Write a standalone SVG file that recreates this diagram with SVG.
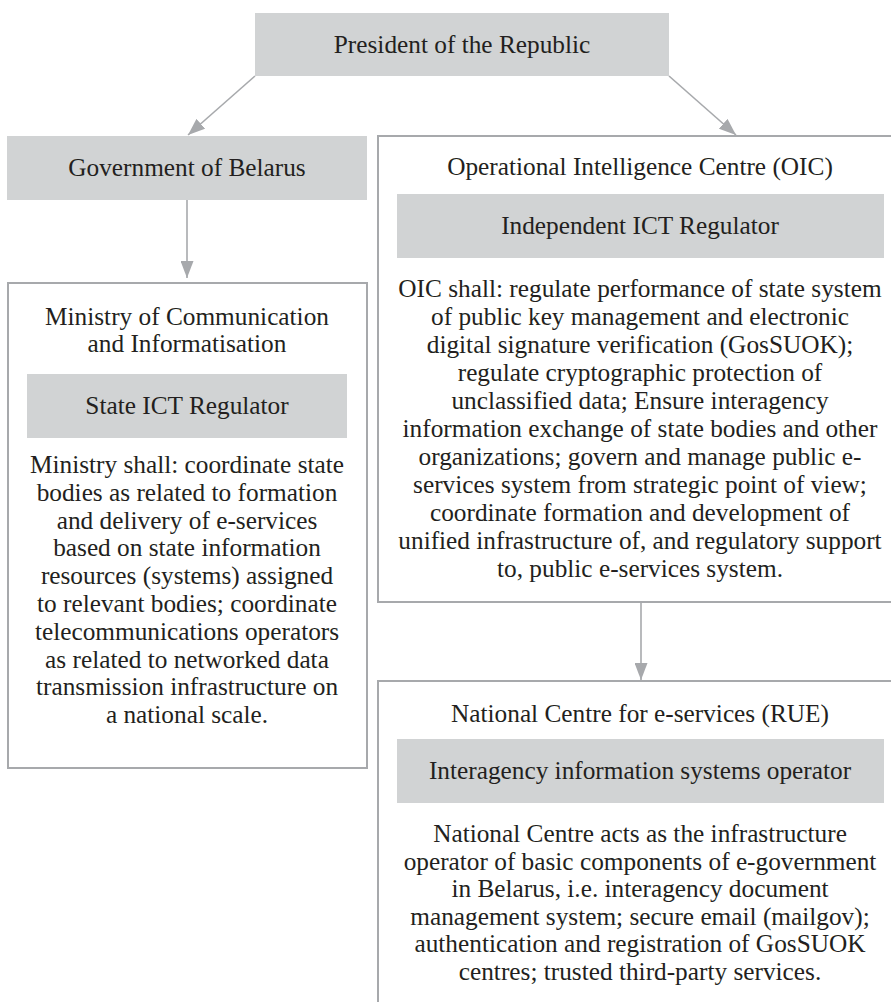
<svg xmlns="http://www.w3.org/2000/svg" width="891" height="1002" viewBox="0 0 891 1002">
<style>
text{font-family:"Liberation Serif","Times New Roman",serif;font-size:25.3px;fill:#231f20;text-anchor:middle}
.fill{fill:#d1d3d4;stroke:none}
.frame{fill:#ffffff;stroke:#a7a9ac;stroke-width:2}
.conn{stroke:#a7a9ac;stroke-width:1.6;fill:none}
</style>
<defs>
<marker id="ah" markerWidth="17" markerHeight="13" refX="17" refY="6.5" orient="auto" markerUnits="userSpaceOnUse">
<path d="M0,0 L17,6.5 L0,13 Z" fill="#a7a9ac"/>
</marker>
</defs>
<rect width="891" height="1002" fill="#ffffff"/>
<g id="connectors">
<line class="conn" x1="255" y1="76" x2="188" y2="135" marker-end="url(#ah)"/>
<line class="conn" x1="669" y1="76" x2="736" y2="135" marker-end="url(#ah)"/>
<line class="conn" x1="187" y1="200" x2="187" y2="278" marker-end="url(#ah)"/>
<line class="conn" x1="641" y1="602" x2="641" y2="680" marker-end="url(#ah)"/>
</g>
<g id="president">
<rect class="fill" x="255" y="13" width="414" height="63"/>
<text x="462" y="53">President of the Republic</text>
</g>
<g id="government">
<rect class="fill" x="7" y="136" width="360" height="64"/>
<text x="187" y="176">Government of Belarus</text>
</g>
<g id="ministry">
<rect class="frame" x="8" y="283" width="359" height="485"/>
<text x="187" y="325">Ministry of Communication</text>
<text x="187" y="352">and Informatisation</text>
<rect class="fill" x="27" y="374" width="320" height="64"/>
<text x="187" y="414">State ICT Regulator</text>
<text x="187" y="473">Ministry shall: coordinate state</text>
<text x="187" y="500.8">bodies as related to formation</text>
<text x="187" y="528.6">and delivery of e-services</text>
<text x="187" y="556.4">based on state information</text>
<text x="187" y="584.2">resources (systems) assigned</text>
<text x="187" y="612">to relevant bodies; coordinate</text>
<text x="187" y="639.8">telecommunications operators</text>
<text x="187" y="667.6">as related to networked data</text>
<text x="187" y="695.4">transmission infrastructure on</text>
<text x="187" y="723.2">a national scale.</text>
</g>
<g id="oic">
<rect class="frame" x="378" y="136" width="520" height="466"/>
<text x="640" y="175">Operational Intelligence Centre (OIC)</text>
<rect class="fill" x="397" y="194" width="487" height="64"/>
<text x="640" y="234">Independent ICT Regulator</text>
<text x="640" y="297">OIC shall: regulate performance of state system</text>
<text x="640" y="325">of public key management and electronic</text>
<text x="640" y="353">digital signature verification (GosSUOK);</text>
<text x="640" y="381">regulate cryptographic protection of</text>
<text x="640" y="409">unclassified data; Ensure interagency</text>
<text x="640" y="437">information exchange of state bodies and other</text>
<text x="640" y="465">organizations; govern and manage public e-</text>
<text x="640" y="493">services system from strategic point of view;</text>
<text x="640" y="521">coordinate formation and development of</text>
<text x="640" y="549">unified infrastructure of, and regulatory support</text>
<text x="640" y="577">to, public e-services system.</text>
</g>
<g id="national">
<rect class="frame" x="378" y="681" width="520" height="340"/>
<text x="640" y="722">National Centre for e-services (RUE)</text>
<rect class="fill" x="397" y="739" width="487" height="64"/>
<text x="640" y="779">Interagency information systems operator</text>
<text x="640" y="842">National Centre acts as the infrastructure</text>
<text x="640" y="869.6">operator of basic components of e-government</text>
<text x="640" y="897.2">in Belarus, i.e. interagency document</text>
<text x="640" y="924.8">management system; secure email (mailgov);</text>
<text x="640" y="952.4">authentication and registration of GosSUOK</text>
<text x="640" y="980">centres; trusted third-party services.</text>
</g>
</svg>
